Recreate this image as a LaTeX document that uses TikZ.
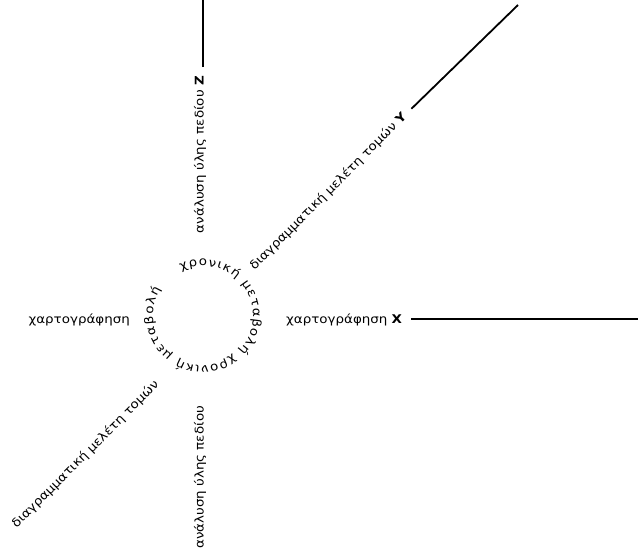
\documentclass[tikz,border=0pt]{standalone}
\usepackage{fontspec}
\newfontfamily\gr[FakeStretch=1.12]{DejaVu Sans}
\usetikzlibrary{decorations.text}
\begin{document}
\begin{tikzpicture}[x=1pt,y=1pt,
  lbl/.style={font=\gr\fontsize{12}{14}\selectfont, inner sep=0pt},
  axis/.style={line width=1.8pt}]
\useasboundingbox (0,0) rectangle (640,-555);
\coordinate (c) at (203,-316);
\coordinate (zend) at (203,0);
\coordinate (xend) at (638,-319);
\coordinate (yend) at (518,-5);
% Z axis
\node[lbl, rotate=90, anchor=east] (zl) at (200,-76) {ανάλυση ύλης πεδίου \textbf{Z}};
\draw[axis, shorten <=9pt] (zl.east -| zend) -- (zend);
% X axis
\node[lbl, anchor=west] (xl) at (286,-320) {χαρτογράφηση \textbf{X}};
\draw[axis, shorten <=9pt] (xl.east |- xend) -- (xend);
% Y axis
\node[lbl, rotate=45, anchor=east] (yl) at (405,-115) {διαγραμματική μελέτη τομών \textbf{Y}};
\draw[axis, shorten <=9pt] (yl.east) -- (yend);
% opposite labels
\node[lbl, rotate=90, anchor=west] (bl) at (200,-549) {ανάλυση ύλης πεδίου};
\node[lbl, anchor=east] (ll) at (130,-320) {χαρτογράφηση};
\node[lbl, rotate=45, anchor=east] (dl) at (157,-383) {διαγραμματική μελέτη τομών};
% circular text
\path[decorate, decoration={text along path,
   text={|\gr\fontsize{12}{14}\selectfont|χρονική μεταβολή χρονική μεταβολή},
   text align={fit to path}}]
  (c) ++(116:50) arc[start angle=116, end angle=-212, radius=50];
\end{tikzpicture}
\end{document}
